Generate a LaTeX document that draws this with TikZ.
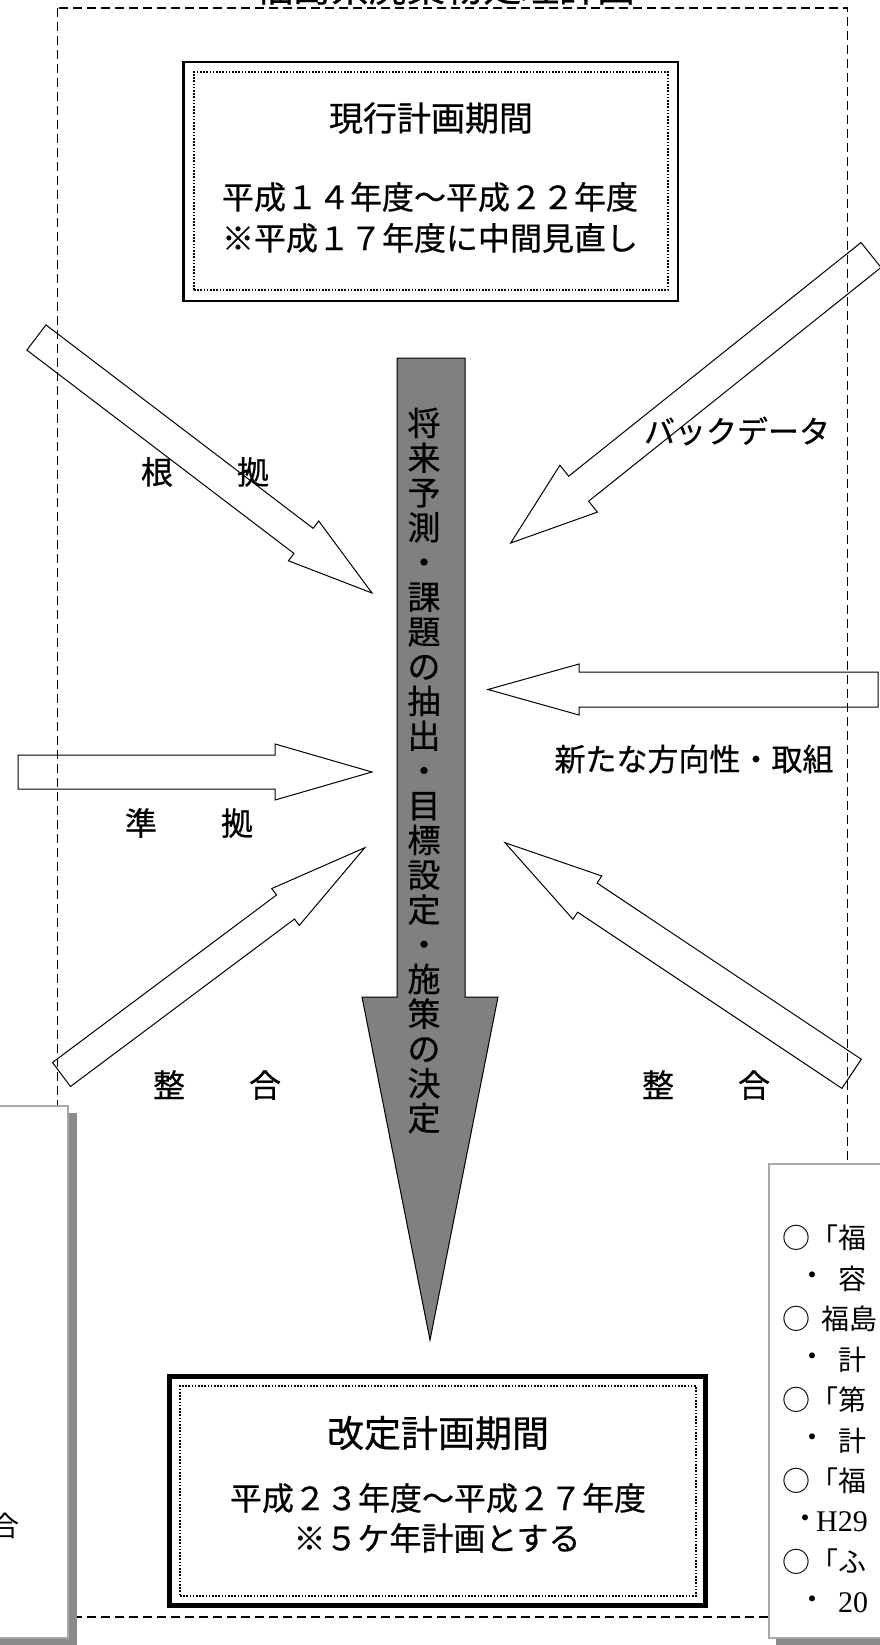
\documentclass[tikz,border=0pt]{standalone}
\usepackage{fontspec}
\setmainfont{Noto Sans CJK JP}[FakeBold=0.6]
\newfontfamily\sidefont{Noto Sans CJK JP}
\newfontfamily\latinserif{Liberation Serif}
\usetikzlibrary{calc}
\newcommand\fsz[1]{\fontsize{#1}{#1}\selectfont}
\definecolor{arrowgray}{HTML}{808080}
\definecolor{boxedge}{HTML}{A8A8A8}
\definecolor{shadowgray}{HTML}{8A8A8A}
\tikzset{
  outerframe/.style={line width=1.4pt, dash pattern=on 9pt off 5pt},
  warrow/.style={draw=black, line width=1pt, line join=miter},
  garrow/.style={draw=black, fill=arrowgray, line width=1pt, line join=miter},
  lbl/.style={inner sep=0pt, font=\fsz{32}},
  boxtxt/.style={inner sep=0pt, font=\fsz{32}},
  solidbox/.style={draw=black, inner sep=0pt, fill=white},
  dotbox/.style={draw=black, inner sep=0pt, line width=1.6pt, dash pattern=on 1.6pt off 1.6pt},
  sidebox/.style={draw=boxedge, line width=2pt, fill=white},
  sideshadow/.style={fill=shadowgray},
  rb/.style={inner sep=0pt, font=\fsz{28}\sidefont},
}
% block arrow: tail, tip, half shaft width, half head width, head length
\newcommand\blockarrow[5]{%
  \path ($(#2)!#5!(#1)$) coordinate (hb);
  \draw[warrow] ($(#1)!#3!90:(#2)$) -- ($(hb)!#3!90:(#2)$) -- ($(hb)!#4!90:(#2)$)
    -- (#2) -- ($(hb)!#4!-90:(#2)$) -- ($(hb)!#3!-90:(#2)$) -- ($(#1)!#3!-90:(#2)$) -- cycle;
}
\begin{document}
\begin{tikzpicture}[x=1pt,y=-1pt]
\useasboundingbox (0,0) rectangle (880,1645);
\fill[white] (0,0) rectangle (880,1645);

% outer dashed frame and its title
\draw[outerframe] (57.5,8) rectangle (847.5,1617);
\node[anchor=south, inner sep=0pt, font=\fsz{38}] (title) at (445,5) {福島県廃棄物処理計画};

% current plan box
\node[solidbox, line width=2.5pt, minimum width=494.5, minimum height=238.5] (cur) at (430.5,181.5) {};
\node[dotbox, minimum width=474, minimum height=218] (curin) at (431,181) {};
\node[inner sep=0pt, font=\fsz{34}] (curT) at (431,118) {現行計画期間};
\node[boxtxt] (curA) at (430,197) {平成１４年度～平成２２年度};
\node[boxtxt] (curB) at (430,238) {※平成１７年度に中間見直し};

% revised plan box
\node[solidbox, line width=5pt, minimum width=536, minimum height=229] (rev) at (437.5,1491) {};
\node[dotbox, minimum width=516, minimum height=210] (revin) at (438,1491) {};
\node[inner sep=0pt, font=\fsz{37}] (revT) at (438,1433) {改定計画期間};
\node[boxtxt] (revA) at (438,1498) {平成２３年度～平成２７年度};
\node[boxtxt] (revB) at (437,1538) {※５ケ年計画とする};

% central grey arrow
\coordinate (gtop) at (431,358);
\coordinate (gtip) at (430,1340);
\draw[garrow] (397,358) -- (465,358) -- (465,997) -- (498,997) -- (gtip)
  -- (362,997) -- (397,997) -- cycle;
\node[inner sep=0pt, align=center, font=\fontsize{33}{34.75}\selectfont] (vtext) at (424,770.5)
  {将\\来\\予\\測\\・\\課\\題\\の\\抽\\出\\・\\目\\標\\設\\定\\・\\施\\策\\の\\決\\定};

% white block arrows
\coordinate (aTail) at (36.4,337.5);  \coordinate (aTip) at (372,593);
\coordinate (bTail) at (871,255);     \coordinate (bTip) at (510.7,543);
\coordinate (cTail) at (878,689.5);   \coordinate (cTip) at (488,689.5);
\coordinate (dTail) at (18,772);      \coordinate (dTip) at (372,772);
\coordinate (eTail) at (61.5,1074.5); \coordinate (eTip) at (364.8,847.7);
\coordinate (fTail) at (851.6,1073.8);\coordinate (fTip) at (505,842.7);
\blockarrow{aTail}{aTip}{15.8pt}{25pt}{86pt}
\blockarrow{bTail}{bTip}{16pt}{30pt}{87pt}
\blockarrow{cTail}{cTip}{17.5pt}{25.5pt}{91pt}
\blockarrow{dTail}{dTip}{17pt}{28pt}{97pt}
\blockarrow{eTail}{eTip}{15pt}{23pt}{99pt}
\blockarrow{fTail}{fTip}{17.5pt}{26pt}{99pt}

% labels
\node[lbl] (lbA) at (205,472) {根\hspace{2em}拠};
\node[lbl, font=\fsz{31}] (lbB) at (737,431) {バックデータ};
\node[lbl, font=\fsz{31}] (lbC) at (694,759) {新たな方向性・取組};
\node[lbl] (lbD) at (189,823) {準\hspace{2em}拠};
\node[lbl] (lbE) at (217,1085) {整\hspace{2em}合};
\node[lbl] (lbF) at (706,1085) {整\hspace{2em}合};

% left side box (cut off)
\fill[sideshadow] (-10,1113) rectangle (77,1660);
\draw[sidebox] (-10,1106) rectangle (68,1638);
\node[rb] (lq) at (5,1526) {合};

% right side box (cut off)
\fill[sideshadow] (776,1171) rectangle (900,1660);
\draw[sidebox] (769,1164) rectangle (900,1638);
\node[rb, anchor=west] (r1) at (782,1238) {○「福};
\node[rb] (r2b) at (812,1278.5) {・};
\node[rb, anchor=west] (r2) at (838,1278.5) {容};
\node[rb, anchor=west] (r3) at (782,1319) {○\hspace{0.4em}福島};
\node[rb] (r4b) at (812,1359.5) {・};
\node[rb, anchor=west] (r4) at (838,1359.5) {計};
\node[rb, anchor=west] (r5) at (782,1400) {○「第};
\node[rb] (r6b) at (812,1440.5) {・};
\node[rb, anchor=west] (r6) at (838,1440.5) {計};
\node[rb, anchor=west] (r7) at (782,1481) {○「福};
\node[rb] (r8b) at (805,1521.5) {・};
\node[rb, anchor=west, font=\fsz{30}\latinserif] (r8) at (816,1521.5) {H29};
\node[rb, anchor=west] (r9) at (782,1562) {○「ふ};
\node[rb] (r10b) at (812,1602.5) {・};
\node[rb, anchor=west, font=\fsz{30}\latinserif] (r10) at (838,1602.5) {20};
\end{tikzpicture}
\end{document}
